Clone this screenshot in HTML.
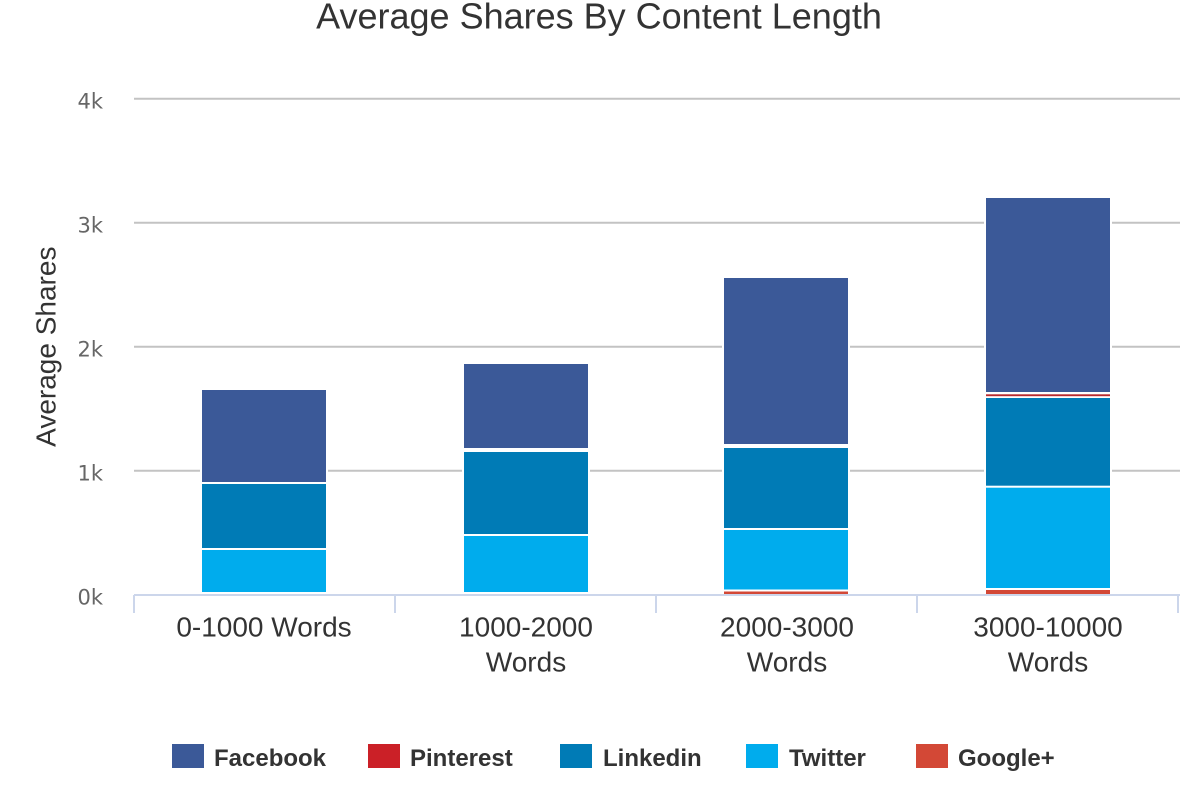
<!DOCTYPE html>
<html>
<head>
<meta charset="utf-8">
<style>
  html, body { margin: 0; padding: 0; background: #ffffff; }
  svg { display: block; }
</style>
</head>
<body>
<svg width="1200" height="800" viewBox="0 0 1200 800" xmlns="http://www.w3.org/2000/svg">
  <rect x="0" y="0" width="1200" height="800" fill="#ffffff"/>

  <!-- Title -->
  <text x="599" y="28.5" text-anchor="middle" font-family="Liberation Sans, Arial, sans-serif" font-size="36" fill="#333333">Average Shares By Content Length</text>

  <!-- Gridlines -->
  <g stroke="#c3c3c3" stroke-width="2">
    <line x1="134" y1="98.7" x2="1180" y2="98.7"/>
    <line x1="134" y1="222.7" x2="1180" y2="222.7"/>
    <line x1="134" y1="346.7" x2="1180" y2="346.7"/>
    <line x1="134" y1="470.7" x2="1180" y2="470.7"/>
  </g>

  <!-- Y axis labels -->
  <g font-family="DejaVu Sans, sans-serif" font-size="21" fill="#666666" text-anchor="end">
    <text x="103" y="108.3">4k</text>
    <text x="103" y="232.3">3k</text>
    <text x="103" y="356.3">2k</text>
    <text x="103" y="480.3">1k</text>
    <text x="103" y="604.3">0k</text>
  </g>

  <!-- Y axis title -->
  <text transform="translate(55.5,346.7) rotate(-90)" text-anchor="middle" font-family="Liberation Sans, Arial, sans-serif" font-size="28" fill="#333333">Average Shares</text>

  <!-- Bars: white halos -->
  <g fill="#ffffff">
    <rect x="200" y="388" width="128" height="206"/>
    <rect x="462" y="362" width="128" height="232"/>
    <rect x="722" y="276" width="128" height="318"/>
    <rect x="984" y="196" width="128" height="398"/>
  </g>

  <!-- Bar 1 -->
  <rect x="202" y="390" width="124" height="92" fill="#3b5998"/>
  <rect x="202" y="484" width="124" height="64" fill="#007bb6"/>
  <rect x="202" y="550" width="124" height="42" fill="#00aced"/>

  <!-- Bar 2 -->
  <rect x="464" y="364" width="124" height="84" fill="#3b5998"/>
  <rect x="464" y="452" width="124" height="82" fill="#007bb6"/>
  <rect x="464" y="536" width="124" height="56" fill="#00aced"/>

  <!-- Bar 3 -->
  <rect x="724" y="278" width="124" height="166" fill="#3b5998"/>
  <rect x="724" y="448" width="124" height="80" fill="#007bb6"/>
  <rect x="724" y="530" width="124" height="59.5" fill="#00aced"/>
  <rect x="724" y="591.5" width="124" height="2.5" fill="#d34836"/>

  <!-- Bar 4 -->
  <rect x="986" y="198" width="124" height="194" fill="#3b5998"/>
  <rect x="986" y="394.3" width="124" height="1.9" fill="#b82a2e"/>
  <rect x="986" y="398" width="124" height="87.7" fill="#007bb6"/>
  <rect x="986" y="487.7" width="124" height="100.3" fill="#00aced"/>
  <rect x="986" y="590" width="124" height="4" fill="#d34836"/>

  <!-- X axis line and ticks -->
  <g stroke="#ccd6eb" stroke-width="2">
    <line x1="134" y1="595" x2="1180" y2="595"/>
    <line x1="134" y1="595" x2="134" y2="613"/>
    <line x1="395" y1="595" x2="395" y2="613"/>
    <line x1="656" y1="595" x2="656" y2="613"/>
    <line x1="917" y1="595" x2="917" y2="613"/>
    <line x1="1178" y1="595" x2="1178" y2="613"/>
  </g>

  <!-- X axis labels -->
  <g font-family="Liberation Sans, Arial, sans-serif" font-size="28" fill="#333333" text-anchor="middle">
    <text x="264" y="636.7">0-1000 Words</text>
    <text x="526" y="636.7">1000-2000</text>
    <text x="526" y="671.7">Words</text>
    <text x="787" y="636.7">2000-3000</text>
    <text x="787" y="671.7">Words</text>
    <text x="1048" y="636.7">3000-10000</text>
    <text x="1048" y="671.7">Words</text>
  </g>

  <!-- Legend -->
  <g font-family="Liberation Sans, Arial, sans-serif" font-size="24" font-weight="bold" fill="#333333">
    <rect x="172" y="744" width="32" height="24" fill="#3b5998"/>
    <text x="214" y="766">Facebook</text>
    <rect x="368" y="744" width="32" height="24" fill="#cb2027"/>
    <text x="410" y="766">Pinterest</text>
    <rect x="560" y="744" width="32" height="24" fill="#007bb6"/>
    <text x="603" y="766">Linkedin</text>
    <rect x="746" y="744" width="32" height="24" fill="#00aced"/>
    <text x="789" y="766">Twitter</text>
    <rect x="916" y="744" width="32" height="24" fill="#d34836"/>
    <text x="958" y="766">Google+</text>
  </g>
</svg>
</body>
</html>
